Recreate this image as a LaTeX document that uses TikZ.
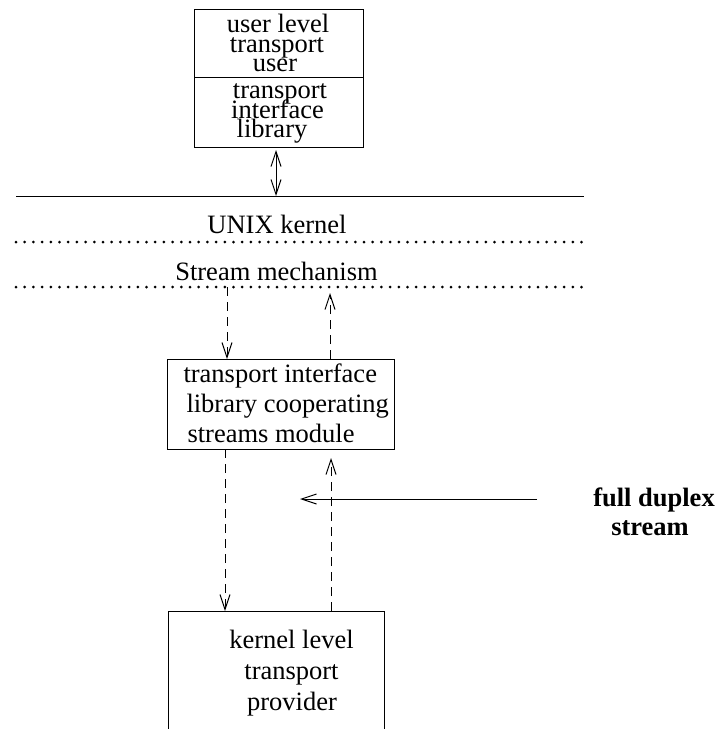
\documentclass[tikz,border=0pt]{standalone}
\usepackage{fontspec}
\setmainfont{Liberation Serif}
\usetikzlibrary{arrows.meta}
\begin{document}
\begin{tikzpicture}[x=1pt,y=-1pt,line width=1pt,
  txt/.style={anchor=base,inner sep=0pt,font=\fontsize{26.5}{31}\selectfont},
  txtl/.style={anchor=base west,inner sep=0pt,font=\fontsize{26.5}{31}\selectfont},
  btxt/.style={anchor=base,inner sep=0pt,font=\fontsize{26.5}{31}\selectfont\bfseries},
  boxn/.style={draw,rectangle,inner sep=0pt,anchor=north west},
  frame/.style={rectangle,inner sep=0pt,anchor=north west},
  dotline/.style={line width=3pt,line cap=round,dash pattern=on 0pt off 8.7pt},
  dashline/.style={dash pattern=on 9pt off 6pt},
  arr/.style={-{Straight Barb[length=15pt,width=10pt]}},
  darr/.style={{Straight Barb[length=15pt,width=10pt]}-{Straight Barb[length=15pt,width=10pt]}}
]
\useasboundingbox (0,0) rectangle (717,729);

% top box
\node[boxn,minimum width=169pt,minimum height=68pt] (usr) at (194,9) {};
\node[boxn,minimum width=169pt,minimum height=70pt] (lib) at (194,77) {};
\node[txt] (u1) at (278,32) {user level};
\node[txt] (u2) at (277,52) {transport};
\node[txt] (u3) at (275,71) {user};
\node[txt] (l1) at (280,98) {transport};
\node[txt] (l2) at (277.5,118) {interface};
\node[txt] (l3) at (272,137) {library};

% kernel lines
\coordinate (hlA) at (16,196);
\coordinate (hlB) at (584,196);
\draw (hlA) -- (hlB);
\coordinate (d1A) at (16,242);
\coordinate (d1B) at (584,242);
\draw[dotline] (d1A) -- (d1B);
\coordinate (d2A) at (16,287);
\coordinate (d2B) at (584,287);
\draw[dotline] (d2A) -- (d2B);
\node[txt] (unix) at (277,233) {UNIX kernel};
\node[txt] (smech) at (276.5,280) {Stream mechanism};

% double arrow
\coordinate (daT) at (276,150);
\coordinate (daB) at (276,196);
\draw[darr] (daT) -- (daB);

% middle box
\node[boxn,minimum width=227pt,minimum height=90pt] (mid) at (167,359) {};
\node[txtl] (m1) at (183,382) {transport interface};
\node[txtl] (m2) at (186,412) {library cooperating};
\node[txtl] (m3) at (187,442) {streams module};

% bottom box (open at bottom)
\node[frame,minimum width=215pt,minimum height=118pt] (bot) at (168,611) {};
\draw (bot.south west) -- (bot.north west) -- (bot.north east) -- (bot.south east);
\node[txt] (b1) at (291.5,648) {kernel level};
\node[txt] (b2) at (291.5,679) {transport};
\node[txt] (b3) at (292,710) {provider};

% dashed arrows upper
\coordinate (s1) at (227,287);
\coordinate (e1) at (227,359);
\draw[dashline,arr] (s1) -- (e1);
\coordinate (s2) at (330,359);
\coordinate (e2) at (330,293);
\draw[dashline,arr] (s2) -- (e2);

% dashed arrows lower
\coordinate (s3) at (225,449);
\coordinate (e3) at (225,611);
\draw[dashline,arr] (s3) -- (e3);
\coordinate (s4) at (331,611);
\coordinate (e4) at (331,458);
\draw[dashline,arr] (s4) -- (e4);

% full duplex
\node[btxt] (fd1) at (654,506) {full duplex};
\node[btxt] (fd2) at (650,535) {stream};
\coordinate (fdS) at (537,499);
\coordinate (fdE) at (300,499);
\draw[arr] (fdS) -- (fdE);
\end{tikzpicture}
\end{document}
